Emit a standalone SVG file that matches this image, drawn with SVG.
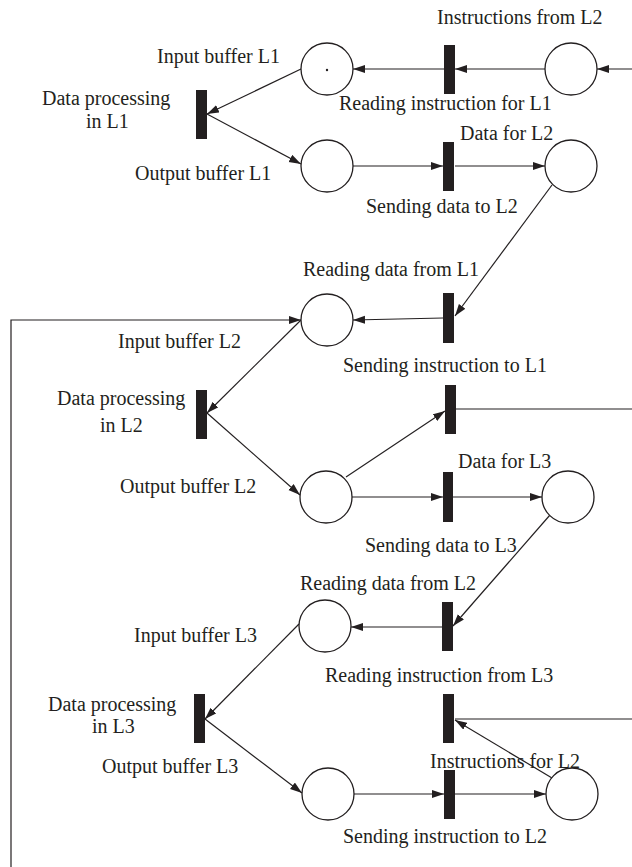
<svg xmlns="http://www.w3.org/2000/svg" width="632" height="867" viewBox="0 0 632 867">
<defs>
<marker id="ah" markerUnits="userSpaceOnUse" markerWidth="13" markerHeight="9" refX="12" refY="4" orient="auto">
<path d="M0,0 L12,4 L0,8 z" fill="#231f20"/>
</marker>
<style>
.pl{fill:#fff;stroke:#231f20;stroke-width:1.3}
.tr{fill:#231f20}
.ln{fill:none;stroke:#231f20;stroke-width:1.2}
.ar{marker-end:url(#ah)}
text{font-family:"Liberation Serif","Times New Roman",serif;font-size:20px;fill:#231f20}
</style>
</defs>
<rect width="632" height="867" fill="#fff"/>
<g id="connectors">
<line class="ln ar" x1="632" y1="69" x2="597" y2="69"/>
<line class="ln ar" x1="545" y1="69" x2="455" y2="69"/>
<line class="ln ar" x1="444" y1="69" x2="353" y2="69"/>
<line class="ln ar" x1="301" y1="69" x2="207" y2="114"/>
<line class="ln ar" x1="207" y1="114" x2="301" y2="164"/>
<line class="ln ar" x1="353" y1="166" x2="443" y2="166"/>
<line class="ln ar" x1="455" y1="166" x2="545" y2="166"/>
<line class="ln ar" x1="552" y1="185" x2="455" y2="316"/>
<line class="ln ar" x1="443" y1="318" x2="353" y2="320"/>
<polyline class="ln ar" points="11,867 11,320 301,320"/>
<line class="ln ar" x1="301" y1="320" x2="207" y2="413"/>
<line class="ln ar" x1="207" y1="413" x2="300" y2="495"/>
<line class="ln ar" x1="346" y1="477" x2="445" y2="411"/>
<line class="ln" x1="456" y1="409" x2="632" y2="409"/>
<line class="ln ar" x1="352" y1="497" x2="443" y2="497"/>
<line class="ln ar" x1="453" y1="497" x2="542" y2="497"/>
<line class="ln ar" x1="550" y1="515" x2="453" y2="626"/>
<line class="ln ar" x1="442" y1="627" x2="351" y2="627"/>
<line class="ln ar" x1="299" y1="624" x2="205" y2="719"/>
<line class="ln ar" x1="205" y1="719" x2="302" y2="793"/>
<line class="ln ar" x1="354" y1="794" x2="444" y2="794"/>
<line class="ln ar" x1="455" y1="794" x2="546" y2="794"/>
<line class="ln ar" x1="552" y1="778" x2="455" y2="720"/>
<line class="ln" x1="632" y1="719" x2="455" y2="719"/>
</g>
<g id="p-input-buffer-l1"><circle class="pl" cx="327" cy="69" r="26"/><circle cx="327" cy="70" r="1.2" fill="#231f20"/><text x="157" y="63">Input buffer L1</text></g>
<g id="p-instructions-from-l2"><circle class="pl" cx="571" cy="69" r="26"/><text x="437" y="24">Instructions from L2</text></g>
<g id="t-reading-instruction-l1"><rect class="tr" x="444" y="45" width="11" height="49"/><text x="339" y="110">Reading instruction for L1</text></g>
<g id="t-data-processing-l1"><rect class="tr" x="196" y="90" width="11" height="49"/><text x="42" y="105">Data processing</text><text x="86" y="128">in L1</text></g>
<g id="p-output-buffer-l1"><circle class="pl" cx="327" cy="166" r="26"/><text x="135" y="180">Output buffer L1</text></g>
<g id="t-sending-data-l2"><rect class="tr" x="443" y="142" width="11" height="49"/><text x="366" y="213">Sending data to L2</text></g>
<g id="p-data-for-l2"><circle class="pl" cx="571" cy="166" r="26"/><text x="460" y="140">Data for L2</text></g>
<g id="t-reading-data-l1"><rect class="tr" x="443" y="293" width="11" height="50"/><text x="303" y="276">Reading data from L1</text></g>
<g id="p-input-buffer-l2"><circle class="pl" cx="327" cy="320" r="26"/><text x="118" y="348">Input buffer L2</text></g>
<g id="t-sending-instruction-l1"><rect class="tr" x="445" y="385" width="11" height="49"/><text x="343" y="372">Sending instruction to L1</text></g>
<g id="t-data-processing-l2"><rect class="tr" x="196" y="390" width="11" height="49"/><text x="57" y="405">Data processing</text><text x="100" y="432">in L2</text></g>
<g id="p-output-buffer-l2"><circle class="pl" cx="326" cy="497" r="26"/><text x="120" y="493">Output buffer L2</text></g>
<g id="t-sending-data-l3"><rect class="tr" x="443" y="472" width="10" height="50"/><text x="365" y="552">Sending data to L3</text></g>
<g id="p-data-for-l3"><circle class="pl" cx="568" cy="497" r="26"/><text x="458" y="468">Data for L3</text></g>
<g id="t-reading-data-l2"><rect class="tr" x="442" y="602" width="11" height="49"/><text x="300" y="590">Reading data from L2</text></g>
<g id="p-input-buffer-l3"><circle class="pl" cx="325" cy="626" r="26"/><text x="134" y="642">Input buffer L3</text></g>
<g id="t-reading-instruction-l3"><rect class="tr" x="443" y="694" width="11" height="49"/><text x="325" y="682">Reading instruction from L3</text></g>
<g id="t-data-processing-l3"><rect class="tr" x="194" y="694" width="11" height="49"/><text x="48" y="711">Data processing</text><text x="92" y="733">in L3</text></g>
<g id="p-output-buffer-l3"><circle class="pl" cx="328" cy="794" r="26"/><text x="102" y="773">Output buffer L3</text></g>
<g id="t-sending-instruction-l2"><rect class="tr" x="444" y="770" width="11" height="49"/><text x="343" y="843">Sending instruction to L2</text></g>
<g id="p-instructions-for-l2"><circle class="pl" cx="572" cy="794" r="26"/><text x="430" y="768">Instructions for L2</text></g>
</svg>
